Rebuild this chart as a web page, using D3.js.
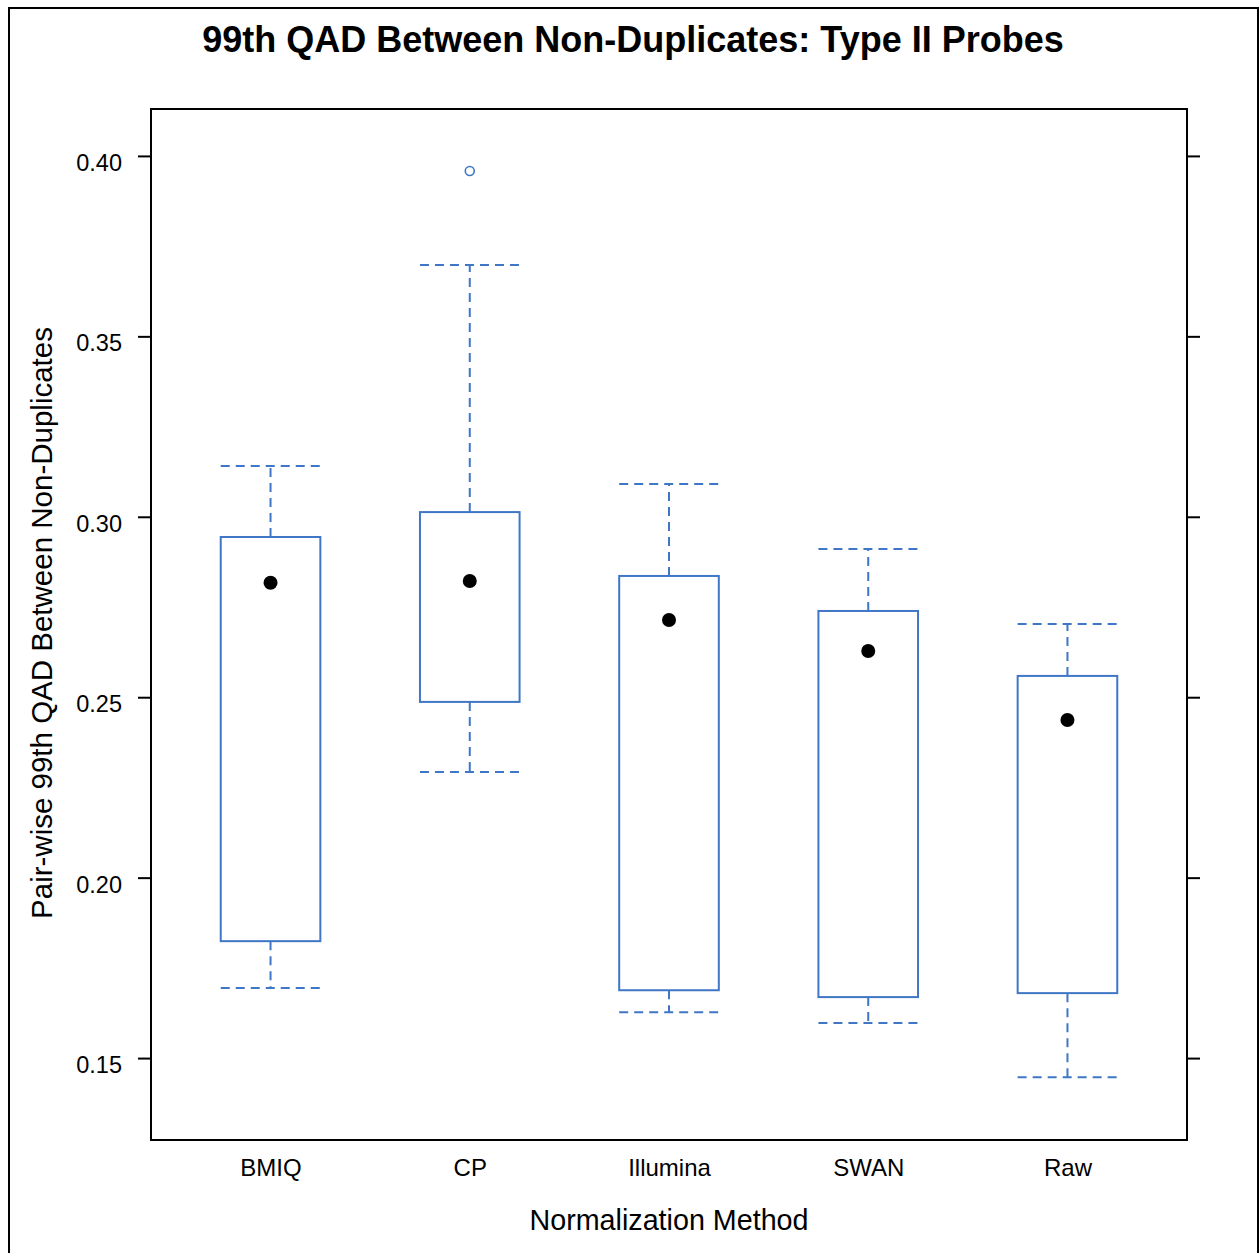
<!DOCTYPE html>
<html>
<head>
<meta charset="utf-8">
<script src="https://cdnjs.cloudflare.com/ajax/libs/d3/7.8.5/d3.min.js"></script>
<style>
  body { margin: 0; background: #fff; }
  text { font-family: "Liberation Sans", Arial, sans-serif; fill: #000; }
</style>
</head>
<body>
<div id="chart"></div>
<script>
// box stats
var methods = ["BMIQ", "CP", "Illumina", "SWAN", "Raw"];
var whiskLo = [0.1694, 0.2293, 0.1627, 0.1597, 0.1447];
var boxLo   = [0.1824, 0.2487, 0.1688, 0.1669, 0.1680];
var median  = [0.2817, 0.2822, 0.2714, 0.2628, 0.2437];
var boxHi   = [0.2944, 0.3013, 0.2836, 0.2739, 0.2559];
var whiskHi = [0.3141, 0.3698, 0.3091, 0.2911, 0.2703];
var outliers = [[], [0.3958], [], [], []];
var yTicks = [0.15, 0.20, 0.25, 0.30, 0.35, 0.40];

var W = 1259, H = 1253;
var margin = { top: 109, right: 72, bottom: 113, left: 151 };
var width = W - margin.left - margin.right,
    height = H - margin.top - margin.bottom;
var blue = "#3f77c6";

var svg = d3.select("#chart").append("svg")
    .attr("width", W)
    .attr("height", H);

// outer frame
svg.append("rect")
    .attr("x", 9).attr("y", 8)
    .attr("width", 1249).attr("height", 1260)
    .attr("fill", "none").attr("stroke", "#000").attr("stroke-width", 2);

var g = svg.append("g")
    .attr("transform", "translate(" + margin.left + "," + margin.top + ")");

var x = d3.scaleLinear().domain([0.4, 5.6]).range([0, width]);
var y = d3.scaleLinear().domain([0.1273, 0.4130]).range([height, 0]);

// left axis
var yl = g.append("g").call(d3.axisLeft(y).tickValues(yTicks).tickSize(13).tickPadding(16).tickFormat(d3.format(".2f")));
yl.select(".domain").remove();
yl.selectAll("line").attr("stroke-width", 2);
yl.selectAll("text").attr("dy", "0.62em").style("font-size", "23.5px").style("font-family", "Liberation Sans, Arial, sans-serif");

// right ticks (no labels)
var yr = g.append("g").attr("transform", "translate(" + width + ",0)")
    .call(d3.axisRight(y).tickValues(yTicks).tickSize(13).tickFormat(""));
yr.select(".domain").remove();
yr.selectAll("line").attr("stroke-width", 2);

// bottom labels
var xb = g.append("g").attr("transform", "translate(0," + height + ")")
    .call(d3.axisBottom(x).tickValues([1, 2, 3, 4, 5]).tickSize(0).tickPadding(19)
      .tickFormat(function(d){ return methods[d - 1]; }));
xb.select(".domain").remove();
xb.selectAll("text").style("font-size", "24px").style("font-family", "Liberation Sans, Arial, sans-serif");

var half = 0.25;
methods.forEach(function(m, i) {
  var c = x(i + 1);
  var dash = "9,6";
  // whiskers
  g.append("line").attr("x1", c).attr("x2", c).attr("y1", y(boxHi[i])).attr("y2", y(whiskHi[i]))
    .attr("stroke", blue).attr("stroke-width", 2).attr("stroke-dasharray", dash);
  g.append("line").attr("x1", c).attr("x2", c).attr("y1", y(boxLo[i])).attr("y2", y(whiskLo[i]))
    .attr("stroke", blue).attr("stroke-width", 2).attr("stroke-dasharray", dash);
  g.append("line").attr("x1", x(i + 1 - half)).attr("x2", x(i + 1 + half))
    .attr("y1", y(whiskHi[i])).attr("y2", y(whiskHi[i]))
    .attr("stroke", blue).attr("stroke-width", 2).attr("stroke-dasharray", dash);
  g.append("line").attr("x1", x(i + 1 - half)).attr("x2", x(i + 1 + half))
    .attr("y1", y(whiskLo[i])).attr("y2", y(whiskLo[i]))
    .attr("stroke", blue).attr("stroke-width", 2).attr("stroke-dasharray", dash);
  // box
  g.append("rect")
    .attr("x", x(i + 1 - half)).attr("y", y(boxHi[i]))
    .attr("width", x(i + 1 + half) - x(i + 1 - half))
    .attr("height", y(boxLo[i]) - y(boxHi[i]))
    .attr("fill", "#fff").attr("stroke", blue).attr("stroke-width", 2);
  // median dot
  g.append("circle").attr("cx", c).attr("cy", y(median[i])).attr("r", 7).attr("fill", "#000");
  outliers[i].forEach(function(o) {
    g.append("circle").attr("cx", c).attr("cy", y(o)).attr("r", 4.5)
      .attr("fill", "none").attr("stroke", blue).attr("stroke-width", 1.6);
  });
});

// panel border
g.append("rect").attr("width", width).attr("height", height)
  .attr("fill", "none").attr("stroke", "#000").attr("stroke-width", 2);

// title + axis titles
svg.append("text").attr("x", 633).attr("y", 52).attr("text-anchor", "middle")
  .style("font-size", "36px").style("font-weight", "bold")
  .text("99th QAD Between Non-Duplicates: Type II Probes");

svg.append("text").attr("x", 669).attr("y", 1230).attr("text-anchor", "middle")
  .style("font-size", "28.7px").text("Normalization Method");

svg.append("text").attr("transform", "translate(52,623) rotate(-90)").attr("text-anchor", "middle")
  .style("font-size", "29.5px").text("Pair-wise 99th QAD Between Non-Duplicates");
</script>
</body>
</html>
